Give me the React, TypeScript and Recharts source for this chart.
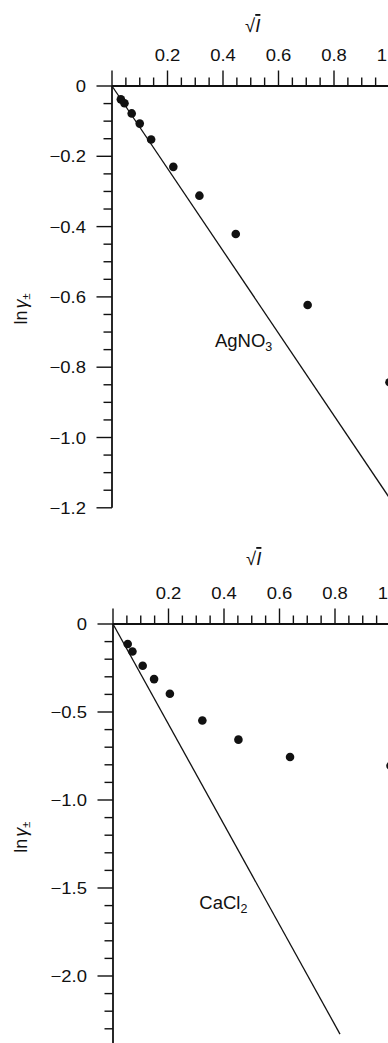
import React from "react";
import { ReferenceDot, Scatter, ScatterChart, XAxis, YAxis } from "recharts";

const INK = "#111";
const FONT = "'Liberation Sans', Arial, Helvetica, sans-serif";

// AgNO3 panel: measured points and limiting-law line
const agSqrtI = [0.032, 0.045, 0.071, 0.1, 0.141, 0.221, 0.315, 0.446, 0.705, 1.0];
const agLnGamma = [-0.038, -0.049, -0.078, -0.107, -0.152, -0.23, -0.312, -0.421, -0.623, -0.843];
const agLimitX = [0, 1.0];
const agLimitY = [0, -1.172];

// CaCl2 panel
const caSqrtI = [0.053, 0.07, 0.107, 0.148, 0.205, 0.322, 0.452, 0.638, 1.0];
const caLnGamma = [-0.114, -0.156, -0.237, -0.313, -0.396, -0.548, -0.657, -0.756, -0.805];
const caLimitX = [0, 0.818];
const caLimitY = [0, -2.33];

// ticks
const xTicks = [0, 0.05, 0.1, 0.15, 0.2, 0.25, 0.3, 0.35, 0.4, 0.45, 0.5, 0.55, 0.6, 0.65, 0.7, 0.75, 0.8, 0.85, 0.9, 0.95, 1.0];
const xMajor = [0, 0.2, 0.4, 0.6, 0.8, 1.0];
const xLabels = ["", "0.2", "0.4", "0.6", "0.8", "1.0"];

const agYTicks = [0, -0.05, -0.1, -0.15, -0.2, -0.25, -0.3, -0.35, -0.4, -0.45, -0.5, -0.55, -0.6, -0.65, -0.7, -0.75, -0.8, -0.85, -0.9, -0.95, -1.0, -1.05, -1.1, -1.15, -1.2];
const agYMajor = [0, -0.2, -0.4, -0.6, -0.8, -1.0, -1.2];
const agYLabels = ["0", "\u22120.2", "\u22120.4", "\u22120.6", "\u22120.8", "\u22121.0", "\u22121.2"];

const caYTicks = [0, -0.1, -0.2, -0.3, -0.4, -0.5, -0.6, -0.7, -0.8, -0.9, -1.0, -1.1, -1.2, -1.3, -1.4, -1.5, -1.6, -1.7, -1.8, -1.9, -2.0, -2.1, -2.2, -2.3, -2.4];
const caYMajor = [0, -0.5, -1.0, -1.5, -2.0];
const caYLabels = ["0", "\u22120.5", "\u22121.0", "\u22121.5", "\u22122.0"];

const toPoints = (xs: number[], ys: number[]) => xs.map((x, i) => ({ x, y: ys[i] }));
const majorIndex = (majors: number[], v: number) => majors.findIndex((m) => Math.abs(m - v) < 1e-6);

function XTick(props: any) {
  const { x, y, payload, majors, labels } = props;
  const i = majorIndex(majors, payload.value);
  const major = i >= 0;
  return (
    <g>
      <line x1={x} x2={x} y1={y} y2={y - (major ? 15.5 : 8.5)} stroke={INK} strokeWidth={1.4} />
      {major && labels[i] ? (
        <text transform={`translate(${x},${y - 25}) scale(1.12,1)`} textAnchor="middle" fontSize={16.5} fontFamily={FONT} fill={INK}>
          {labels[i]}
        </text>
      ) : null}
    </g>
  );
}

function YTick(props: any) {
  const { x, y, payload, majors, labels } = props;
  const i = majorIndex(majors, payload.value);
  const major = i >= 0;
  return (
    <g>
      <line x1={x} x2={x - (major ? 15.5 : 8.5)} y1={y} y2={y} stroke={INK} strokeWidth={1.4} />
      {major ? (
        <text transform={`translate(${x - 26},${y + 6}) scale(1.12,1)`} textAnchor="end" fontSize={16.5} fontFamily={FONT} fill={INK}>
          {labels[i]}
        </text>
      ) : null}
    </g>
  );
}

function XTitle(props: any) {
  const vb = props.viewBox || { x: 112, y: 0, width: 277, height: 86 };
  const cx = vb.x + vb.width / 2 + 2;
  const base = vb.y + vb.height - props.lift;
  return (
    <text x={cx} y={base} textAnchor="middle" fontSize={18.5} fontFamily={FONT} fill={INK}>
      {"\u221A"}
      <tspan fontStyle="italic" style={{ textDecoration: "overline" }}>I</tspan>
    </text>
  );
}

function YTitle(props: any) {
  const vb = props.viewBox || { x: 0, y: 86, width: 112, height: 422 };
  const cy = vb.y + vb.height / 2 + props.shift;
  return (
    <text transform={`translate(27,${cy}) rotate(-90)`} textAnchor="middle" fontSize={18} fontFamily={FONT} fill={INK}>
      ln
      <tspan fontStyle="italic" dx={2}>{"\u03B3"}</tspan>
      <tspan fontSize={11} dy={3}>{"\u00B1"}</tspan>
    </text>
  );
}

function Formula(props: any) {
  const { cx, cy, text, sub } = props;
  return (
    <text x={cx} y={cy} fontSize={18.5} fontFamily={FONT} fill={INK}>
      {text}
      <tspan fontSize={12.5} dy={4}>{sub}</tspan>
    </text>
  );
}

const Dot = (p: any) => <circle cx={p.cx} cy={p.cy} r={4.3} fill={INK} />;
const NoShape = () => <g />;

type PanelProps = {
  width: number;
  height: number;
  yAxisWidth: number;
  marginRight: number;
  marginBottom: number;
  yDomain: [number, number];
  yTicks: number[];
  yMajor: number[];
  yLabels: string[];
  points: { x: number; y: number }[];
  limit: { x: number; y: number }[];
  name: string;
  sub: string;
  nameAt: { x: number; y: number };
  titleLift: number;
  yTitleShift: number;
};

function Panel(p: PanelProps) {
  return (
    <ScatterChart width={p.width} height={p.height} margin={{ top: 0, right: p.marginRight, left: 0, bottom: p.marginBottom }}>
      <XAxis
        type="number"
        dataKey="x"
        orientation="top"
        height={86}
        domain={[0, 1]}
        ticks={xTicks}
        interval={0}
        tickSize={0}
        tickMargin={0}
        axisLine={{ stroke: INK, strokeWidth: 1.8 }}
        tickLine={false}
        tick={(t: any) => <XTick {...t} majors={xMajor} labels={xLabels} />}
        label={<XTitle lift={p.titleLift} />}
      />
      <YAxis
        type="number"
        dataKey="y"
        width={p.yAxisWidth}
        domain={p.yDomain}
        ticks={p.yTicks}
        interval={0}
        tickSize={0}
        tickMargin={0}
        axisLine={{ stroke: INK, strokeWidth: 1.8 }}
        tickLine={false}
        tick={(t: any) => <YTick {...t} majors={p.yMajor} labels={p.yLabels} />}
        label={<YTitle shift={p.yTitleShift} />}
      />
      <Scatter data={p.limit} line={{ stroke: INK, strokeWidth: 1.3 }} shape={NoShape} isAnimationActive={false} />
      <Scatter data={p.points} shape={Dot} isAnimationActive={false} />
      <ReferenceDot
        x={p.nameAt.x}
        y={p.nameAt.y}
        r={1}
        shape={(s: any) => <Formula cx={s.cx} cy={s.cy} text={p.name} sub={p.sub} />}
      />
    </ScatterChart>
  );
}

export default function App() {
  return (
    <div style={{ position: "absolute", left: 0, top: 0, width: 388, height: 1043, overflow: "hidden", background: "#fff" }}>
      <div style={{ position: "absolute", left: 0, top: 0 }}>
        <Panel
          width={392}
          height={520}
          yAxisWidth={112}
          marginRight={2.5}
          marginBottom={12.2}
          yDomain={[-1.2, 0]}
          yTicks={agYTicks}
          yMajor={agYMajor}
          yLabels={agYLabels}
          points={toPoints(agSqrtI, agLnGamma)}
          limit={toPoints(agLimitX, agLimitY)}
          name="AgNO"
          sub="3"
          nameAt={{ x: 0.371, y: -0.743 }}
          titleLift={54}
          yTitleShift={12}
        />
      </div>
      <div style={{ position: "absolute", left: 0, top: 538.3 }}>
        <Panel
          width={391}
          height={508.4}
          yAxisWidth={113}
          marginRight={0.5}
          marginBottom={0}
          yDomain={[-2.4, 0]}
          yTicks={caYTicks}
          yMajor={caYMajor}
          yLabels={caYLabels}
          points={toPoints(caSqrtI, caLnGamma)}
          limit={toPoints(caLimitX, caLimitY)}
          name="CaCl"
          sub="2"
          nameAt={{ x: 0.311, y: -1.619 }}
          titleLift={59}
          yTitleShift={2}
        />
      </div>
    </div>
  );
}
